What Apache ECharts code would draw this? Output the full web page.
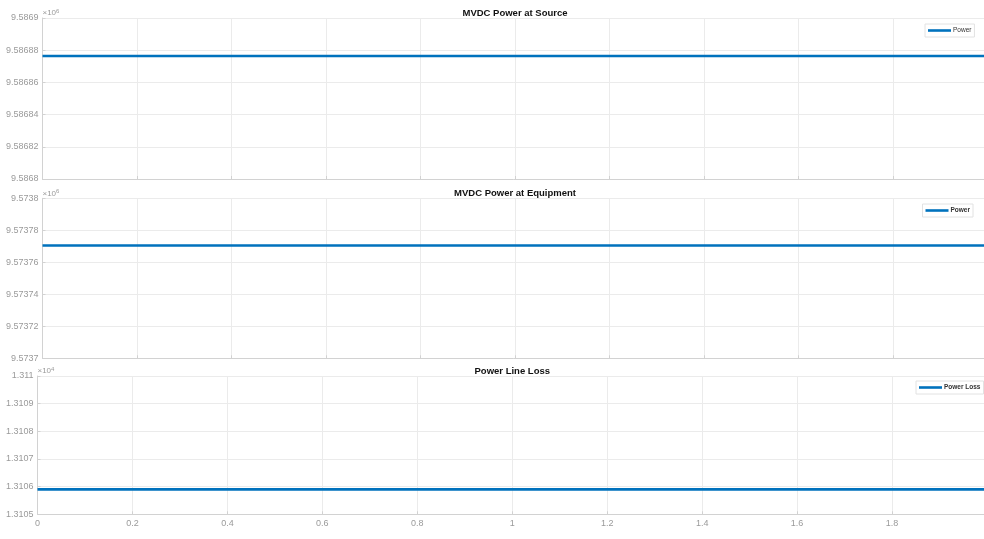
<!DOCTYPE html>
<html>
<head>
<meta charset="utf-8">
<script src="https://cdn.jsdelivr.net/npm/echarts@6/dist/echarts.min.js"></script>
<style>
  html, body { margin: 0; padding: 0; background: #fff; }
  #chart { width: 984px; height: 539px; }
</style>
</head>
<body>
<div id="chart"></div>
<script>
// Time samples (s)
const timeSec = [0, 0.5, 1, 1.5, 2];
// Power delivered by the MVDC source (W)
const sourcePower = [9586876.4, 9586876.4, 9586876.4, 9586876.4, 9586876.4];
// Power arriving at the equipment (W)
const equipmentPower = [9573770.5, 9573770.5, 9573770.5, 9573770.5, 9573770.5];
// Line loss = source - equipment (W)
const lineLoss = [13105.9, 13105.9, 13105.9, 13105.9, 13105.9];

const titles = ['MVDC Power at Source', 'MVDC Power at Equipment', 'Power Line Loss'];
const seriesNames = ['Power', 'Power', 'Power Loss'];
const yRanges = [[9586800, 9586900, 20], [9573700, 9573800, 20], [13105, 13110, 1]];
const yScale = [1e6, 1e6, 1e4];
const yExp = ['6', '6', '4'];

const FONT = 'Liberation Sans, Arial, Helvetica, sans-serif';
const LINE_BLUE = '#0072BD';
const LABEL_GRAY = '#9a9a9a';
const AXIS_GRAY = '#d2d2d2';
const GRID_GRAY = '#ebebeb';

const grids = [
  { left: 42.5, right: -3.5, top: 18, height: 161 },
  { left: 42.5, right: -3.5, top: 198.3, height: 160 },
  { left: 37.5, right: -3, top: 376, height: 138.3 }
];
const legendPos = [
  { left: 925, top: 24 },
  { left: 922.5, top: 204 },
  { left: 916, top: 381 }
];

const data = [sourcePower, equipmentPower, lineLoss];

function fmt(v, s) {
  return String(parseFloat((v / s).toFixed(6)));
}

const option = {
  backgroundColor: '#fff',
  animation: false,
  textStyle: { fontFamily: FONT },
  title: grids.map((g, i) => ({
    text: titles[i],
    left: g.left + (984 - g.left - g.right) / 2,
    textAlign: 'center',
    top: g.top - 10,
    padding: 0,
    textStyle: { fontSize: 9.5, fontWeight: 'bold', color: '#111', fontFamily: FONT }
  })),
  grid: grids.map(g => Object.assign({ containLabel: false, outerBoundsMode: 'none' }, g)),
  legend: legendPos.map((p, i) => ({
    left: p.left,
    top: p.top,
    data: [seriesNames[i]],
    orient: 'horizontal',
    icon: 'rect',
    padding: [3, 3, 3, 3],
    itemWidth: 23,
    itemHeight: 2.6,
    itemGap: 2,
    backgroundColor: '#fff',
    borderColor: '#e2e2e2',
    borderWidth: 1,
    selectedMode: false,
    textStyle: { fontSize: 6.5, color: '#333', fontWeight: i === 0 ? 'normal' : 'bold', fontFamily: FONT, padding: [0, 0, 0, -3] }
  })),
  xAxis: grids.map((g, i) => ({
    type: 'value',
    gridIndex: i,
    min: 0,
    max: 2,
    interval: 0.2,
    axisLine: { show: true, lineStyle: { color: AXIS_GRAY, width: 1 } },
    axisTick: { show: true, inside: true, length: 3, lineStyle: { color: AXIS_GRAY } },
    axisLabel: {
      show: i === 2,
      showMaxLabel: false,
      color: LABEL_GRAY,
      fontSize: 9,
      margin: 5,
      fontFamily: FONT,
      formatter: v => String(parseFloat(v.toFixed(1)))
    },
    splitLine: { show: true, lineStyle: { color: GRID_GRAY, width: 1 } }
  })),
  yAxis: grids.map((g, i) => ({
    type: 'value',
    gridIndex: i,
    min: yRanges[i][0],
    max: yRanges[i][1],
    interval: yRanges[i][2],
    name: '{b|×10}{s|' + yExp[i] + '}',
    nameLocation: 'end',
    nameGap: 1,
    nameMoveOverlap: false,
    nameTextStyle: {
      align: 'left',
      verticalAlign: 'bottom',
      color: LABEL_GRAY,
      fontSize: 8,
      fontFamily: FONT,
      rich: {
        b: { fontSize: 8, color: LABEL_GRAY, fontFamily: FONT, verticalAlign: 'bottom', lineHeight: 9 },
        s: { fontSize: 6, color: LABEL_GRAY, fontFamily: FONT, verticalAlign: 'top', lineHeight: 9 }
      }
    },
    axisLine: { show: true, lineStyle: { color: AXIS_GRAY, width: 1 } },
    axisTick: { show: true, inside: true, length: 3, lineStyle: { color: AXIS_GRAY } },
    axisLabel: {
      color: LABEL_GRAY,
      fontSize: 9,
      margin: 4,
      fontFamily: FONT,
      formatter: v => fmt(v, yScale[i])
    },
    splitLine: { show: true, lineStyle: { color: GRID_GRAY, width: 1 } }
  })),
  series: data.map((d, i) => ({
    name: seriesNames[i],
    type: 'line',
    xAxisIndex: i,
    yAxisIndex: i,
    symbol: 'none',
    data: timeSec.map((t, k) => [t, d[k]]),
    lineStyle: { color: LINE_BLUE, width: 2.6 },
    itemStyle: { color: LINE_BLUE }
  }))
};

const chart = echarts.init(document.getElementById('chart'), null, { renderer: 'canvas' });
chart.setOption(option);
</script>
</body>
</html>
